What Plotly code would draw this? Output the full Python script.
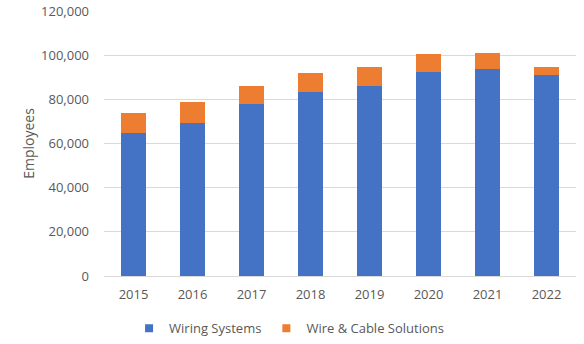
import plotly.graph_objects as go

years = ["2015", "2016", "2017", "2018", "2019", "2020", "2021", "2022"]
wiring_systems = [64800, 69300, 77900, 83300, 86000, 92400, 93700, 91000]
wire_cable = [9000, 9500, 8100, 8600, 8700, 8100, 7300, 3700]

y_ticks = [0, 20000, 40000, 60000, 80000, 100000, 120000]

series_names = ["Wiring Systems", "Wire & Cable Solutions"]
series_colors = ["#4472C4", "#ED7D31"]

font_family = "Open Sans, Liberation Sans, sans-serif"
text_color = "#595959"

fig = go.Figure()
for name, vals, color in zip(series_names, [wiring_systems, wire_cable], series_colors):
    fig.add_trace(go.Bar(x=years, y=vals, name=name, showlegend=False,
                         marker=dict(color=color, line=dict(width=0))))

# compact square legend keys
for name, color in zip(series_names, series_colors):
    fig.add_trace(go.Scatter(x=[None], y=[None], mode="markers", name=name,
                             marker=dict(symbol="square", size=8, color=color),
                             hoverinfo="skip"))

fig.update_layout(
    width=584, height=344,
    barmode="stack", bargap=0.59,
    margin=dict(l=104, r=8, t=11, b=68, autoexpand=False),
    paper_bgcolor="white", plot_bgcolor="white",
    font=dict(family=font_family, size=13, color=text_color),
    showlegend=True,
    legend=dict(orientation="h", xref="container", x=0.495, xanchor="center",
                yref="container", y=0.046, yanchor="middle",
                font=dict(size=13, color=text_color), traceorder="normal",
                itemwidth=30),
    xaxis=dict(showgrid=False, showline=True, linecolor="#d9d9d9", linewidth=1,
               ticks="", automargin=False, ticklabelstandoff=6,
               tickfont=dict(size=13, color=text_color)),
    yaxis=dict(range=[0, 120000], tickvals=y_ticks, tickformat=",d",
               showgrid=True, gridcolor="#d9d9d9", gridwidth=1,
               zeroline=False, showline=False, ticks="", automargin=False,
               ticklabelstandoff=14,
               tickfont=dict(size=13, color=text_color),
               title=dict(text="Employees", font=dict(size=14, color=text_color),
                          standoff=3)),
)

fig.write_html("out.html")
